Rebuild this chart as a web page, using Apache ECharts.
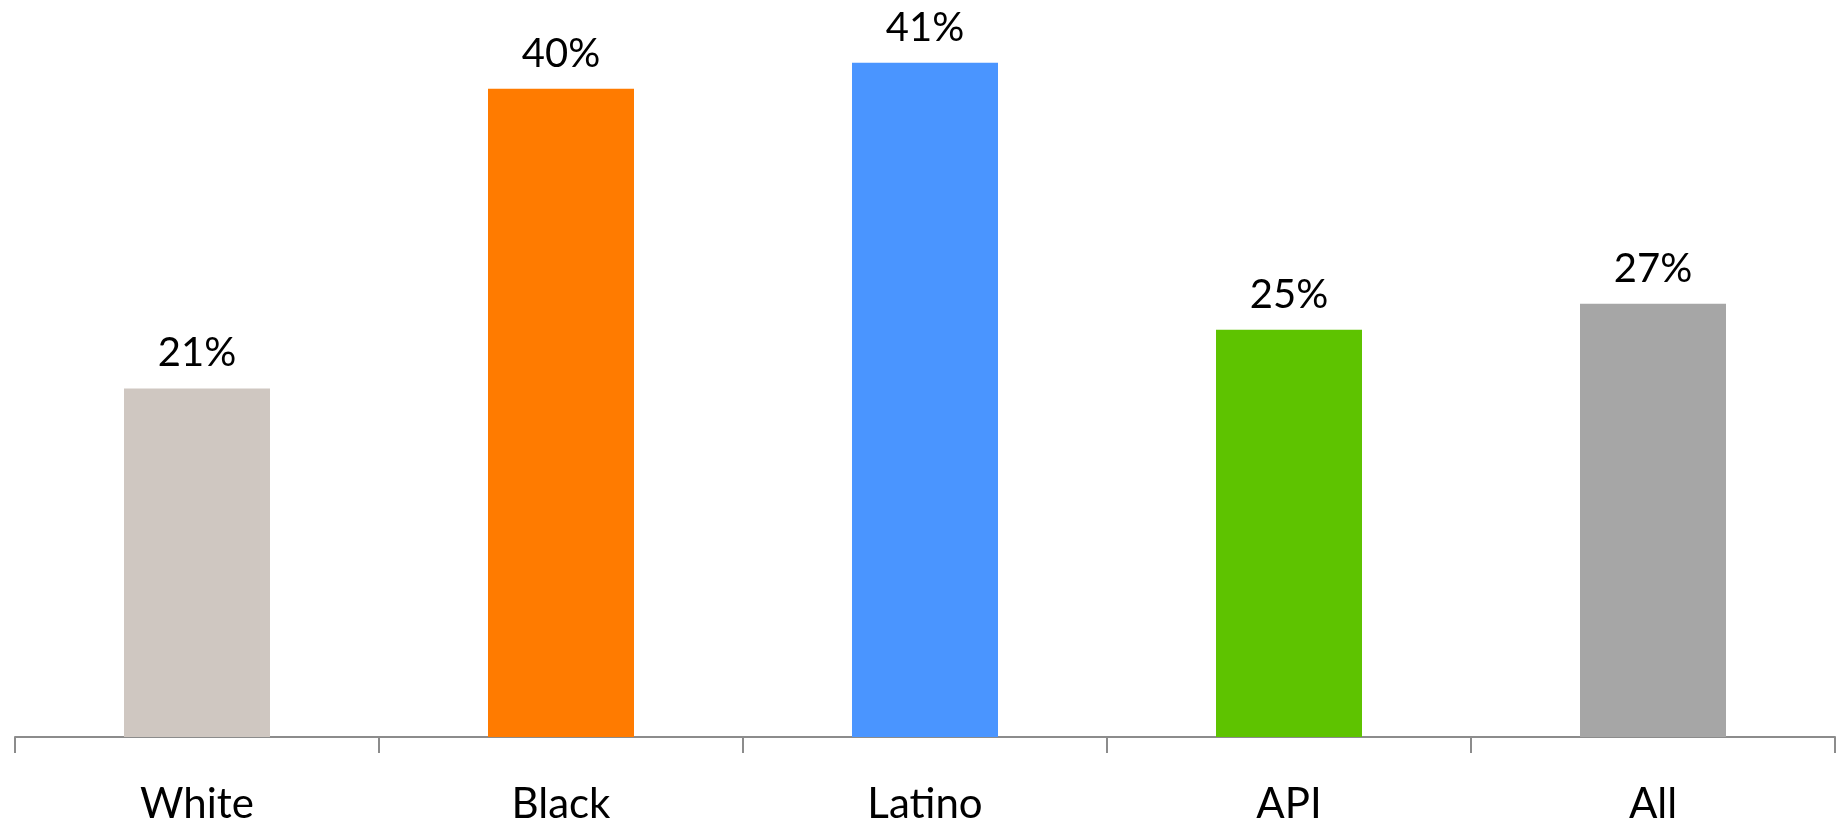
<!DOCTYPE html>
<html>
<head>
<meta charset="utf-8">
<script src="https://cdn.jsdelivr.net/npm/echarts@6/dist/echarts.min.js"></script>
<style>
html,body{margin:0;padding:0;background:#fff;}
#chart{width:1846px;height:825px;}
</style>
</head>
<body>
<div id="chart"></div>
<script>
const categories = ['White', 'Black', 'Latino', 'API', 'All'];
const values = [21.4, 39.8, 41.4, 25.0, 26.6];
const labelTexts = ['21%', '40%', '41%', '25%', '27%'];
const barColors = ['#CFC7C1', '#FF7B00', '#4A95FF', '#5EC300', '#A6A6A6'];

const chart = echarts.init(document.getElementById('chart'));
chart.setOption({
  animation: false,
  backgroundColor: '#ffffff',
  grid: { left: 15, right: 11, top: 4, bottom: 88, containLabel: false },
  xAxis: {
    type: 'category',
    data: categories,
    boundaryGap: true,
    axisLine: { show: true, lineStyle: { color: '#8C8C8C', width: 2 } },
    axisTick: { show: true, length: 16, lineStyle: { color: '#8C8C8C', width: 2 } },
    axisLabel: { color: '#000', fontFamily: 'Lato', fontSize: 42, margin: 46 }
  },
  yAxis: {
    type: 'value',
    min: 0,
    max: 45,
    show: false,
    splitLine: { show: false }
  },
  series: [{
    type: 'bar',
    barWidth: 146,
    data: values.map((v, i) => ({ value: v, itemStyle: { color: barColors[i] } })),
    label: {
      show: true,
      position: 'top',
      distance: 15,
      color: '#000',
      fontFamily: 'Lato',
      fontSize: 40,
      formatter: p => labelTexts[p.dataIndex]
    }
  }]
});
</script>
</body>
</html>
